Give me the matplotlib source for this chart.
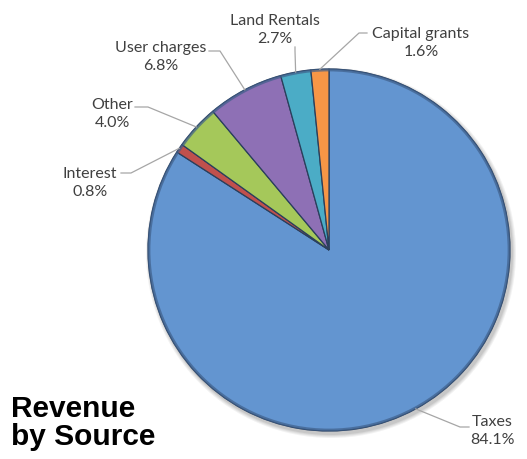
import matplotlib
matplotlib.use("Agg")
import matplotlib.pyplot as plt
import numpy as np
from matplotlib.patches import Circle

categories = ["Taxes", "Interest", "Other", "User charges", "Land Rentals", "Capital grants"]
shares = [84.1, 0.8, 4.0, 6.8, 2.7, 1.6]
colors = ["#6395d0", "#c0504d", "#a5c85a", "#8e70b5", "#4bacc6", "#f79646"]

W, H = 527, 460
fig = plt.figure(figsize=(W / 100, H / 100), dpi=100)
ax = fig.add_axes([0, 0, 1, 1])

cx, cy, R = 329, H - 251, 181

# soft shadow
for i, a in enumerate([0.05, 0.05, 0.06, 0.07]):
    ax.add_patch(Circle((cx + 2, cy - 3), R + 4 - i, color="#000000", alpha=a, lw=0, zorder=0))

wedges, _ = ax.pie(shares, colors=colors, startangle=90, counterclock=False,
                   center=(cx, cy), radius=R, frame=True,
                   wedgeprops=dict(edgecolor="#2a3f5c", linewidth=0.9))
ax.set_xlim(0, W)
ax.set_ylim(0, H)
ax.set_aspect("equal")
ax.axis("off")
# darker outer rim
ax.add_patch(Circle((cx, cy), R - 1, fill=False, edgecolor="#3f5f8a", lw=2.0, alpha=0.7, zorder=3))

# label layout (pixel coords from top-left): text center, leader start, elbow
layout = {
    "Land Rentals":   ((275, 30), (295, 48), (295, 52)),
    "Capital grants": ((421, 43), (367, 34), (359, 34)),
    "User charges":   ((161, 57), (209, 52), (220, 52)),
    "Other":          ((112, 114), (135, 108), (148, 108)),
    "Interest":       ((90, 183), (121, 174), (131, 174)),
    "Taxes":          ((492, 431), (469, 428), (460, 428)),
}

for w, name, val in zip(wedges, categories, shares):
    (tx, ty), (sx, sy), (ex, ey) = layout[name]
    ax.text(tx, H - ty, f"{name}\n{val:.1f}%", ha="center", va="center",
            fontsize=11.5, color="#404040", family="Lato", linespacing=1.3, zorder=5)
    mid = np.deg2rad((w.theta1 + w.theta2) / 2)
    px = cx + R * np.cos(mid)
    py = cy + R * np.sin(mid)
    ax.plot([sx, ex, px], [H - sy, H - ey, py], color="#a6a6a6", lw=0.9, zorder=4)

ax.text(11, H - 417, "Revenue", fontsize=21.5, fontweight="bold", family="Liberation Sans",
        color="#000000", ha="left", va="baseline")
ax.text(11, H - 445, "by Source", fontsize=21.5, fontweight="bold", family="Liberation Sans",
        color="#000000", ha="left", va="baseline")

fig.savefig("out.png", dpi=100)
